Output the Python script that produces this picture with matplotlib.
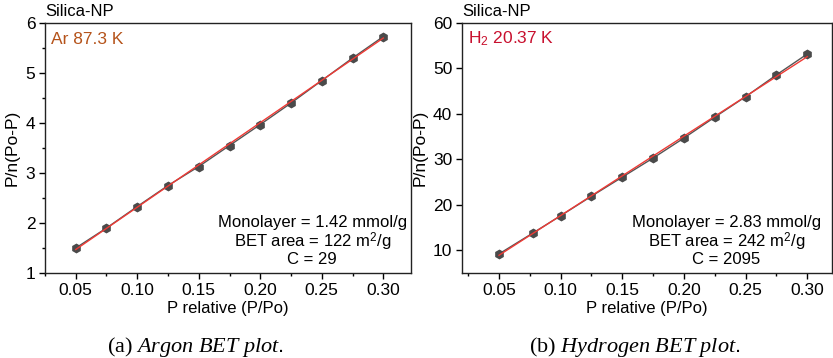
import numpy as np
import matplotlib.pyplot as plt
from matplotlib.ticker import MultipleLocator

plt.rcParams['font.family'] = ['Liberation Sans', 'DejaVu Sans']
plt.rcParams['mathtext.fontset'] = 'custom'
plt.rcParams['mathtext.rm'] = 'Liberation Sans'
plt.rcParams['mathtext.it'] = 'Liberation Serif:italic'

# Argon BET data
ar_x = [0.05, 0.075, 0.10, 0.125, 0.15, 0.175, 0.20, 0.225, 0.25, 0.275, 0.30]
ar_y = [1.50, 1.90, 2.33, 2.75, 3.13, 3.55, 3.97, 4.40, 4.85, 5.30, 5.73]
ar_fit_x = [0.05, 0.30]
ar_fit_y = [1.47, 5.70]

# Hydrogen BET data
h2_x = [0.05, 0.0775, 0.10, 0.125, 0.15, 0.175, 0.20, 0.225, 0.25, 0.275, 0.30]
h2_y = [9.2, 13.8, 17.6, 21.9, 26.1, 30.3, 34.7, 39.3, 43.8, 48.6, 53.2]
h2_fit_x = [0.05, 0.30]
h2_fit_y = [8.9, 52.6]

fig = plt.figure(figsize=(8.33, 3.58), dpi=100)
ax1 = fig.add_axes([0.054, 0.2374, 0.4394, 0.6983])
ax2 = fig.add_axes([0.5546, 0.2374, 0.4442, 0.6983])

panels = [
    (ax1, ar_x, ar_y, ar_fit_x, ar_fit_y, (0.025, 0.3225), (1, 6), 1, 0.5,
     "Ar 87.3 K", "#b5531a",
     ["Monolayer = 1.42 mmol/g", "BET area = 122 m$^2$/g", "C = 29"], 0.73),
    (ax2, h2_x, h2_y, h2_fit_x, h2_fit_y, (0.02, 0.32), (5, 60), 10, None,
     "H$_2$ 20.37 K", "#c8102e",
     ["Monolayer = 2.83 mmol/g", "BET area = 242 m$^2$/g", "C = 2095"], 0.714),
]

for ax, x, y, fx, fy, xlim, ylim, ymaj, ymin, gas, gcol, notes, nx in panels:
    ax.plot(x, y, color="#555555", lw=1.0, marker="h", ms=6,
            mfc="#4a4a4a", mec="#4a4a4a", zorder=2)
    ax.plot(fx, fy, color="#ee3a35", lw=1.0, zorder=3)
    ax.set_xlim(xlim)
    ax.set_ylim(ylim)
    ax.xaxis.set_major_locator(MultipleLocator(0.05))
    ax.xaxis.set_minor_locator(MultipleLocator(0.025))
    ax.yaxis.set_major_locator(MultipleLocator(ymaj))
    if ymin:
        ax.yaxis.set_minor_locator(MultipleLocator(ymin))
    ax.xaxis.set_major_formatter(plt.FuncFormatter(lambda v, p: f"{v:.2f}"))
    ax.tick_params(which="major", direction="out", length=4, width=1,
                   labelsize=12.5, top=False, right=False, pad=3)
    ax.tick_params(which="minor", direction="out", length=2.5, width=1,
                   top=False, right=False)
    for s in ax.spines.values():
        s.set_linewidth(1.0)
        s.set_color("#222222")
    ax.set_xlabel("P relative (P/Po)", fontsize=12, labelpad=2)
    ax.set_ylabel("P/n(Po-P)", fontsize=12.5, labelpad=4)
    ax.text(0.0, 1.045, "Silica-NP", transform=ax.transAxes, fontsize=12,
            ha="left", va="center")
    ax.text(0.016, 0.936, gas, transform=ax.transAxes, fontsize=12.5,
            color=gcol, ha="left", va="center")
    for yy, t in zip([0.204, 0.124, 0.056], notes):
        ax.text(nx, yy, t, transform=ax.transAxes, fontsize=12,
                ha="center", va="center")

fig.text(0.234, 0.03, r"(a) $\mathit{Argon\ BET\ plot.}$", fontsize=16,
         family="Liberation Serif", ha="center", va="center")
fig.text(0.762, 0.03, r"(b) $\mathit{Hydrogen\ BET\ plot.}$", fontsize=16,
         family="Liberation Serif", ha="center", va="center")

fig.savefig("out.png", dpi=100)
